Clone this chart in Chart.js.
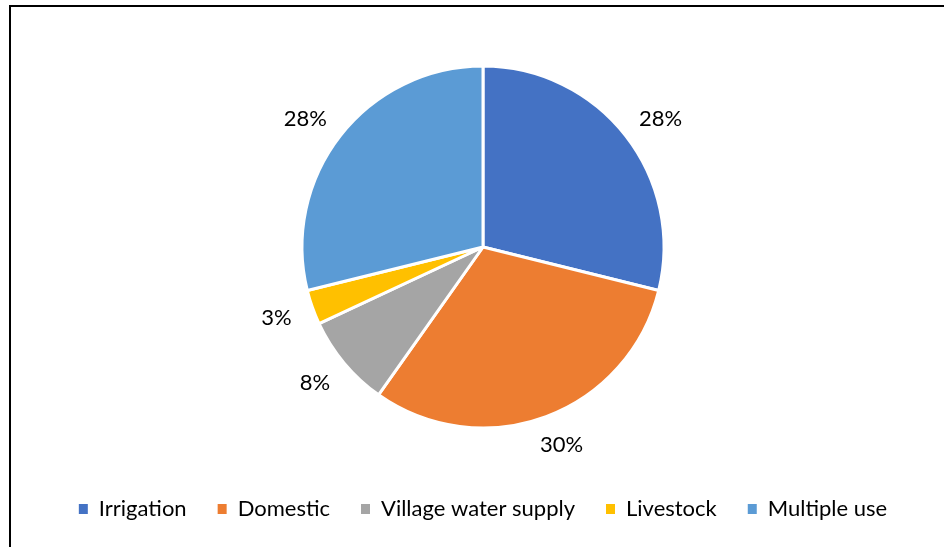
<!DOCTYPE html>
<html lang="en">
<head>
    <meta charset="UTF-8">
    <title>Water use pie</title>
    <script src="https://cdn.jsdelivr.net/npm/chart.js@4.4.0/dist/chart.umd.min.js"></script>
    <style>
        body {
            margin: 0;
            background: #ffffff;
        }

        .frame {
            position: absolute;
            left: 9px;
            top: 5px;
            width: 940px;
            height: 550px;
            border-top: 2px solid #000;
            border-left: 2px solid #000;
        }

        #pieChart {
            position: absolute;
            left: 0;
            top: 0;
        }
    </style>
</head>
<body>
    <div class="frame"></div>
    <canvas id="pieChart" width="944" height="547"></canvas>

    <script>
        // Data
        const categories = ['Irrigation', 'Domestic', 'Village water supply', 'Livestock', 'Multiple use'];
        const shares = [28, 30, 8, 3, 28];
        const colors = ['#4472C4', '#ED7D31', '#A5A5A5', '#FFC000', '#5B9BD5'];

        const FONT = 'Lato, "Open Sans", sans-serif';

        // labels drawn just outside each slice, text box pushed out along the mid angle
        const outsideLabels = {
            id: 'outsideLabels',
            afterDatasetsDraw(chart) {
                const ctx = chart.ctx;
                const meta = chart.getDatasetMeta(0);
                ctx.save();
                ctx.font = '22px ' + FONT;
                ctx.fillStyle = '#000';
                ctx.textAlign = 'center';
                ctx.textBaseline = 'middle';
                meta.data.forEach((arc, i) => {
                    const txt = shares[i] + '%';
                    const w = ctx.measureText(txt).width;
                    const h = 12;
                    const mid = (arc.startAngle + arc.endAngle) / 2;
                    const c = Math.cos(mid), s = Math.sin(mid);
                    const r = arc.outerRadius + 23;
                    const x = arc.x + c * r + c * w / 2;
                    const y = arc.y + s * r + s * h / 2 + 1;
                    ctx.fillText(txt, x, y);
                });
                ctx.restore();
            }
        };

        const ctx = document.getElementById('pieChart').getContext('2d');
        const chart = new Chart(ctx, {
            type: 'pie',
            data: {
                labels: categories,
                datasets: [{
                    data: shares,
                    backgroundColor: colors,
                    borderColor: '#ffffff',
                    borderWidth: 3,
                    radius: 181
                }]
            },
            options: {
                responsive: false,
                animation: false,
                layout: {
                    padding: { left: 22, right: 0, top: 27, bottom: 17 }
                },
                plugins: {
                    legend: {
                        position: 'bottom',
                        labels: {
                            color: '#000',
                            font: { family: FONT, size: 22 },
                            boxWidth: 9,
                            boxHeight: 10,
                            padding: 31,
                            generateLabels(chart) {
                                const items = Chart.overrides.pie.plugins.legend.labels.generateLabels(chart);
                                items.forEach(it => { it.lineWidth = 0; it.strokeStyle = 'rgba(0,0,0,0)'; });
                                return items;
                            }
                        },
                        onClick: null
                    },
                    tooltip: { enabled: false }
                }
            },
            plugins: [outsideLabels]
        });
    </script>
</body>
</html>
